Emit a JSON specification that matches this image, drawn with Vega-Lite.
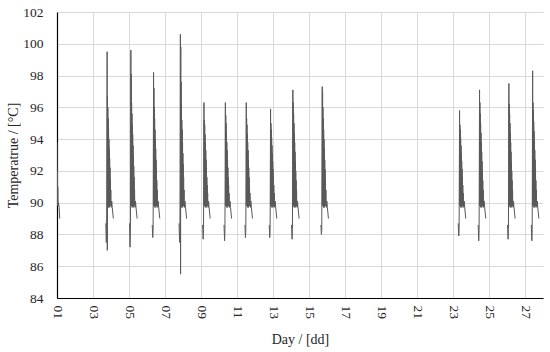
{
  "$schema": "https://vega.github.io/schema/vega-lite/v6.json",
  "autosize": {"type": "none"},
  "width": 486,
  "height": 286,
  "padding": {"left": 57, "top": 12, "right": 7, "bottom": 54},
  "background": "white",
  "config": {
    "view": {"stroke": null},
    "font": "Liberation Serif",
    "axis": {
      "labelFont": "Liberation Serif",
      "titleFont": "Liberation Serif",
      "labelFontSize": 13.5,
      "titleFontSize": 14,
      "titleFontWeight": "normal",
      "labelColor": "#262626",
      "titleColor": "#262626",
      "gridColor": "#d9d9d9",
      "gridWidth": 1,
      "domainColor": "#000000",
      "domainWidth": 1.2,
      "ticks": false
    }
  },
  "data": {"values": [
    {"c":1,"d":1.000,"t":93.8},{"c":1,"d":1.010,"t":89.8},{"c":1,"d":1.020,"t":92.0},{"c":1,"d":1.030,"t":89.8},{"c":1,"d":1.045,"t":91.0},{"c":1,"d":1.060,"t":89.8},{"c":1,"d":1.080,"t":90.0},{"c":1,"d":1.120,"t":89.7},{"c":1,"d":1.150,"t":89.0},

    {"c":2,"d":3.710,"t":88.7},{"c":2,"d":3.740,"t":87.5},{"c":2,"d":3.760,"t":88.3},{"c":2,"d":3.785,"t":99.5},{"c":2,"d":3.795,"t":87.0},{"c":2,"d":3.805,"t":96.7},{"c":2,"d":3.815,"t":89.8},{"c":2,"d":3.825,"t":96.0},{"c":2,"d":3.835,"t":89.8},{"c":2,"d":3.845,"t":95.3},{"c":2,"d":3.855,"t":89.7},{"c":2,"d":3.865,"t":94.6},{"c":2,"d":3.875,"t":89.8},{"c":2,"d":3.885,"t":94.0},{"c":2,"d":3.895,"t":89.8},{"c":2,"d":3.905,"t":93.4},{"c":2,"d":3.915,"t":89.7},{"c":2,"d":3.925,"t":92.8},{"c":2,"d":3.935,"t":89.8},{"c":2,"d":3.945,"t":92.2},{"c":2,"d":3.955,"t":89.8},{"c":2,"d":3.965,"t":91.5},{"c":2,"d":3.975,"t":89.8},{"c":2,"d":3.990,"t":90.8},{"c":2,"d":4.000,"t":89.9},{"c":2,"d":4.020,"t":89.7},{"c":2,"d":4.040,"t":90.1},{"c":2,"d":4.070,"t":89.7},{"c":2,"d":4.130,"t":89.0},

    {"c":3,"d":5.030,"t":88.7},{"c":3,"d":5.060,"t":87.2},{"c":3,"d":5.080,"t":88.3},{"c":3,"d":5.105,"t":99.6},{"c":3,"d":5.115,"t":89.8},{"c":3,"d":5.125,"t":98.1},{"c":3,"d":5.135,"t":89.8},{"c":3,"d":5.145,"t":96.3},{"c":3,"d":5.155,"t":89.8},{"c":3,"d":5.165,"t":95.6},{"c":3,"d":5.175,"t":89.7},{"c":3,"d":5.185,"t":94.9},{"c":3,"d":5.195,"t":89.8},{"c":3,"d":5.205,"t":94.3},{"c":3,"d":5.215,"t":89.8},{"c":3,"d":5.225,"t":93.6},{"c":3,"d":5.235,"t":89.7},{"c":3,"d":5.245,"t":93.0},{"c":3,"d":5.255,"t":89.8},{"c":3,"d":5.265,"t":92.3},{"c":3,"d":5.275,"t":89.8},{"c":3,"d":5.285,"t":91.6},{"c":3,"d":5.295,"t":89.8},{"c":3,"d":5.310,"t":90.8},{"c":3,"d":5.320,"t":89.9},{"c":3,"d":5.340,"t":89.7},{"c":3,"d":5.360,"t":90.1},{"c":3,"d":5.390,"t":89.7},{"c":3,"d":5.450,"t":89.0},

    {"c":4,"d":6.290,"t":88.6},{"c":4,"d":6.320,"t":87.8},{"c":4,"d":6.340,"t":88.3},{"c":4,"d":6.365,"t":98.2},{"c":4,"d":6.375,"t":89.8},{"c":4,"d":6.385,"t":97.2},{"c":4,"d":6.395,"t":89.8},{"c":4,"d":6.405,"t":96.0},{"c":4,"d":6.415,"t":89.8},{"c":4,"d":6.425,"t":95.3},{"c":4,"d":6.435,"t":89.7},{"c":4,"d":6.445,"t":94.6},{"c":4,"d":6.455,"t":89.8},{"c":4,"d":6.465,"t":94.0},{"c":4,"d":6.475,"t":89.8},{"c":4,"d":6.485,"t":93.4},{"c":4,"d":6.495,"t":89.7},{"c":4,"d":6.505,"t":92.7},{"c":4,"d":6.515,"t":89.8},{"c":4,"d":6.525,"t":92.1},{"c":4,"d":6.535,"t":89.8},{"c":4,"d":6.545,"t":91.4},{"c":4,"d":6.555,"t":89.8},{"c":4,"d":6.570,"t":90.8},{"c":4,"d":6.580,"t":89.9},{"c":4,"d":6.600,"t":89.7},{"c":4,"d":6.620,"t":90.1},{"c":4,"d":6.650,"t":89.7},{"c":4,"d":6.710,"t":89.0},

    {"c":5,"d":7.780,"t":88.7},{"c":5,"d":7.810,"t":87.5},{"c":5,"d":7.830,"t":88.3},{"c":5,"d":7.855,"t":100.6},{"c":5,"d":7.865,"t":85.5},{"c":5,"d":7.875,"t":99.8},{"c":5,"d":7.885,"t":89.8},{"c":5,"d":7.895,"t":97.6},{"c":5,"d":7.905,"t":89.8},{"c":5,"d":7.915,"t":96.2},{"c":5,"d":7.925,"t":89.7},{"c":5,"d":7.935,"t":95.2},{"c":5,"d":7.945,"t":89.8},{"c":5,"d":7.955,"t":94.6},{"c":5,"d":7.965,"t":89.8},{"c":5,"d":7.975,"t":93.8},{"c":5,"d":7.985,"t":89.7},{"c":5,"d":7.995,"t":93.1},{"c":5,"d":8.005,"t":89.8},{"c":5,"d":8.015,"t":92.4},{"c":5,"d":8.025,"t":89.8},{"c":5,"d":8.035,"t":91.6},{"c":5,"d":8.045,"t":89.8},{"c":5,"d":8.060,"t":90.8},{"c":5,"d":8.070,"t":89.9},{"c":5,"d":8.090,"t":89.7},{"c":5,"d":8.110,"t":90.1},{"c":5,"d":8.140,"t":89.7},{"c":5,"d":8.200,"t":89.0},

    {"c":6,"d":9.090,"t":88.6},{"c":6,"d":9.120,"t":87.7},{"c":6,"d":9.140,"t":88.3},{"c":6,"d":9.165,"t":96.3},{"c":6,"d":9.175,"t":89.8},{"c":6,"d":9.185,"t":95.2},{"c":6,"d":9.195,"t":89.8},{"c":6,"d":9.205,"t":94.9},{"c":6,"d":9.215,"t":89.8},{"c":6,"d":9.225,"t":94.3},{"c":6,"d":9.235,"t":89.7},{"c":6,"d":9.245,"t":93.8},{"c":6,"d":9.255,"t":89.8},{"c":6,"d":9.265,"t":93.3},{"c":6,"d":9.275,"t":89.8},{"c":6,"d":9.285,"t":92.7},{"c":6,"d":9.295,"t":89.7},{"c":6,"d":9.305,"t":92.2},{"c":6,"d":9.315,"t":89.8},{"c":6,"d":9.325,"t":91.6},{"c":6,"d":9.335,"t":89.8},{"c":6,"d":9.345,"t":91.1},{"c":6,"d":9.355,"t":89.8},{"c":6,"d":9.370,"t":90.6},{"c":6,"d":9.380,"t":89.9},{"c":6,"d":9.400,"t":89.7},{"c":6,"d":9.420,"t":90.1},{"c":6,"d":9.450,"t":89.7},{"c":6,"d":9.510,"t":89.0},

    {"c":7,"d":10.280,"t":88.6},{"c":7,"d":10.310,"t":87.6},{"c":7,"d":10.330,"t":88.3},{"c":7,"d":10.355,"t":96.3},{"c":7,"d":10.365,"t":89.8},{"c":7,"d":10.375,"t":95.5},{"c":7,"d":10.385,"t":89.8},{"c":7,"d":10.395,"t":95.0},{"c":7,"d":10.405,"t":89.8},{"c":7,"d":10.415,"t":94.4},{"c":7,"d":10.425,"t":89.7},{"c":7,"d":10.435,"t":93.8},{"c":7,"d":10.445,"t":89.8},{"c":7,"d":10.455,"t":93.3},{"c":7,"d":10.465,"t":89.8},{"c":7,"d":10.475,"t":92.7},{"c":7,"d":10.485,"t":89.7},{"c":7,"d":10.495,"t":92.2},{"c":7,"d":10.505,"t":89.8},{"c":7,"d":10.515,"t":91.6},{"c":7,"d":10.525,"t":89.8},{"c":7,"d":10.535,"t":91.1},{"c":7,"d":10.545,"t":89.8},{"c":7,"d":10.560,"t":90.6},{"c":7,"d":10.570,"t":89.9},{"c":7,"d":10.590,"t":89.7},{"c":7,"d":10.610,"t":90.1},{"c":7,"d":10.640,"t":89.7},{"c":7,"d":10.700,"t":89.0},

    {"c":8,"d":11.440,"t":88.6},{"c":8,"d":11.470,"t":87.8},{"c":8,"d":11.490,"t":88.3},{"c":8,"d":11.515,"t":96.3},{"c":8,"d":11.525,"t":89.8},{"c":8,"d":11.535,"t":95.3},{"c":8,"d":11.545,"t":89.8},{"c":8,"d":11.555,"t":94.9},{"c":8,"d":11.565,"t":89.8},{"c":8,"d":11.575,"t":94.3},{"c":8,"d":11.585,"t":89.7},{"c":8,"d":11.595,"t":93.8},{"c":8,"d":11.605,"t":89.8},{"c":8,"d":11.615,"t":93.3},{"c":8,"d":11.625,"t":89.8},{"c":8,"d":11.635,"t":92.7},{"c":8,"d":11.645,"t":89.7},{"c":8,"d":11.655,"t":92.2},{"c":8,"d":11.665,"t":89.8},{"c":8,"d":11.675,"t":91.6},{"c":8,"d":11.685,"t":89.8},{"c":8,"d":11.695,"t":91.1},{"c":8,"d":11.705,"t":89.8},{"c":8,"d":11.720,"t":90.6},{"c":8,"d":11.730,"t":89.9},{"c":8,"d":11.750,"t":89.7},{"c":8,"d":11.770,"t":90.1},{"c":8,"d":11.800,"t":89.7},{"c":8,"d":11.860,"t":89.0},

    {"c":9,"d":12.790,"t":88.6},{"c":9,"d":12.820,"t":87.8},{"c":9,"d":12.840,"t":88.3},{"c":9,"d":12.865,"t":95.9},{"c":9,"d":12.875,"t":89.8},{"c":9,"d":12.885,"t":95.0},{"c":9,"d":12.895,"t":89.8},{"c":9,"d":12.905,"t":94.6},{"c":9,"d":12.915,"t":89.8},{"c":9,"d":12.925,"t":94.1},{"c":9,"d":12.935,"t":89.7},{"c":9,"d":12.945,"t":93.6},{"c":9,"d":12.955,"t":89.8},{"c":9,"d":12.965,"t":93.1},{"c":9,"d":12.975,"t":89.8},{"c":9,"d":12.985,"t":92.6},{"c":9,"d":12.995,"t":89.7},{"c":9,"d":13.005,"t":92.1},{"c":9,"d":13.015,"t":89.8},{"c":9,"d":13.025,"t":91.6},{"c":9,"d":13.035,"t":89.8},{"c":9,"d":13.045,"t":91.1},{"c":9,"d":13.055,"t":89.8},{"c":9,"d":13.070,"t":90.6},{"c":9,"d":13.080,"t":89.9},{"c":9,"d":13.100,"t":89.7},{"c":9,"d":13.120,"t":90.1},{"c":9,"d":13.150,"t":89.7},{"c":9,"d":13.210,"t":89.0},

    {"c":10,"d":14.030,"t":88.6},{"c":10,"d":14.060,"t":87.7},{"c":10,"d":14.080,"t":88.3},{"c":10,"d":14.105,"t":97.1},{"c":10,"d":14.115,"t":89.8},{"c":10,"d":14.125,"t":96.3},{"c":10,"d":14.135,"t":89.8},{"c":10,"d":14.145,"t":95.6},{"c":10,"d":14.155,"t":89.8},{"c":10,"d":14.165,"t":95.0},{"c":10,"d":14.175,"t":89.7},{"c":10,"d":14.185,"t":94.4},{"c":10,"d":14.195,"t":89.8},{"c":10,"d":14.205,"t":93.8},{"c":10,"d":14.215,"t":89.8},{"c":10,"d":14.225,"t":93.2},{"c":10,"d":14.235,"t":89.7},{"c":10,"d":14.245,"t":92.6},{"c":10,"d":14.255,"t":89.8},{"c":10,"d":14.265,"t":92.0},{"c":10,"d":14.275,"t":89.8},{"c":10,"d":14.285,"t":91.4},{"c":10,"d":14.295,"t":89.8},{"c":10,"d":14.310,"t":90.8},{"c":10,"d":14.320,"t":89.9},{"c":10,"d":14.340,"t":89.7},{"c":10,"d":14.360,"t":90.1},{"c":10,"d":14.390,"t":89.7},{"c":10,"d":14.450,"t":89.0},

    {"c":11,"d":15.660,"t":88.6},{"c":11,"d":15.690,"t":88.0},{"c":11,"d":15.710,"t":88.3},{"c":11,"d":15.735,"t":97.3},{"c":11,"d":15.745,"t":89.8},{"c":11,"d":15.755,"t":97.0},{"c":11,"d":15.765,"t":89.8},{"c":11,"d":15.775,"t":96.0},{"c":11,"d":15.785,"t":89.8},{"c":11,"d":15.795,"t":95.3},{"c":11,"d":15.805,"t":89.7},{"c":11,"d":15.815,"t":94.6},{"c":11,"d":15.825,"t":89.8},{"c":11,"d":15.835,"t":94.0},{"c":11,"d":15.845,"t":89.8},{"c":11,"d":15.855,"t":93.4},{"c":11,"d":15.865,"t":89.7},{"c":11,"d":15.875,"t":92.7},{"c":11,"d":15.885,"t":89.8},{"c":11,"d":15.895,"t":92.1},{"c":11,"d":15.905,"t":89.8},{"c":11,"d":15.915,"t":91.4},{"c":11,"d":15.925,"t":89.8},{"c":11,"d":15.940,"t":90.8},{"c":11,"d":15.950,"t":89.9},{"c":11,"d":15.970,"t":89.7},{"c":11,"d":15.990,"t":90.1},{"c":11,"d":16.020,"t":89.7},{"c":11,"d":16.080,"t":89.0},

    {"c":12,"d":23.290,"t":88.7},{"c":12,"d":23.320,"t":87.9},{"c":12,"d":23.340,"t":88.3},{"c":12,"d":23.365,"t":95.8},{"c":12,"d":23.375,"t":89.8},{"c":12,"d":23.385,"t":94.9},{"c":12,"d":23.395,"t":89.8},{"c":12,"d":23.405,"t":94.6},{"c":12,"d":23.415,"t":89.8},{"c":12,"d":23.425,"t":94.1},{"c":12,"d":23.435,"t":89.7},{"c":12,"d":23.445,"t":93.6},{"c":12,"d":23.455,"t":89.8},{"c":12,"d":23.465,"t":93.1},{"c":12,"d":23.475,"t":89.8},{"c":12,"d":23.485,"t":92.6},{"c":12,"d":23.495,"t":89.7},{"c":12,"d":23.505,"t":92.1},{"c":12,"d":23.515,"t":89.8},{"c":12,"d":23.525,"t":91.6},{"c":12,"d":23.535,"t":89.8},{"c":12,"d":23.545,"t":91.1},{"c":12,"d":23.555,"t":89.8},{"c":12,"d":23.570,"t":90.6},{"c":12,"d":23.580,"t":89.9},{"c":12,"d":23.600,"t":89.7},{"c":12,"d":23.620,"t":90.1},{"c":12,"d":23.650,"t":89.7},{"c":12,"d":23.710,"t":89.0},

    {"c":13,"d":24.400,"t":88.6},{"c":13,"d":24.430,"t":87.6},{"c":13,"d":24.450,"t":88.3},{"c":13,"d":24.475,"t":97.1},{"c":13,"d":24.485,"t":89.8},{"c":13,"d":24.495,"t":96.3},{"c":13,"d":24.505,"t":89.8},{"c":13,"d":24.515,"t":95.6},{"c":13,"d":24.525,"t":89.8},{"c":13,"d":24.535,"t":95.0},{"c":13,"d":24.545,"t":89.7},{"c":13,"d":24.555,"t":94.4},{"c":13,"d":24.565,"t":89.8},{"c":13,"d":24.575,"t":93.8},{"c":13,"d":24.585,"t":89.8},{"c":13,"d":24.595,"t":93.2},{"c":13,"d":24.605,"t":89.7},{"c":13,"d":24.615,"t":92.6},{"c":13,"d":24.625,"t":89.8},{"c":13,"d":24.635,"t":92.0},{"c":13,"d":24.645,"t":89.8},{"c":13,"d":24.655,"t":91.4},{"c":13,"d":24.665,"t":89.8},{"c":13,"d":24.680,"t":90.8},{"c":13,"d":24.690,"t":89.9},{"c":13,"d":24.710,"t":89.7},{"c":13,"d":24.730,"t":90.1},{"c":13,"d":24.760,"t":89.7},{"c":13,"d":24.820,"t":89.0},

    {"c":14,"d":26.030,"t":88.6},{"c":14,"d":26.060,"t":87.7},{"c":14,"d":26.080,"t":88.3},{"c":14,"d":26.105,"t":97.5},{"c":14,"d":26.115,"t":89.8},{"c":14,"d":26.125,"t":96.2},{"c":14,"d":26.135,"t":89.8},{"c":14,"d":26.145,"t":95.6},{"c":14,"d":26.155,"t":89.8},{"c":14,"d":26.165,"t":95.0},{"c":14,"d":26.175,"t":89.7},{"c":14,"d":26.185,"t":94.4},{"c":14,"d":26.195,"t":89.8},{"c":14,"d":26.205,"t":93.8},{"c":14,"d":26.215,"t":89.8},{"c":14,"d":26.225,"t":93.2},{"c":14,"d":26.235,"t":89.7},{"c":14,"d":26.245,"t":92.6},{"c":14,"d":26.255,"t":89.8},{"c":14,"d":26.265,"t":92.0},{"c":14,"d":26.275,"t":89.8},{"c":14,"d":26.285,"t":91.4},{"c":14,"d":26.295,"t":89.8},{"c":14,"d":26.310,"t":90.8},{"c":14,"d":26.320,"t":89.9},{"c":14,"d":26.340,"t":89.7},{"c":14,"d":26.360,"t":90.1},{"c":14,"d":26.390,"t":89.7},{"c":14,"d":26.450,"t":89.0},

    {"c":15,"d":27.350,"t":88.6},{"c":15,"d":27.380,"t":87.6},{"c":15,"d":27.400,"t":88.3},{"c":15,"d":27.425,"t":98.3},{"c":15,"d":27.435,"t":89.8},{"c":15,"d":27.445,"t":96.3},{"c":15,"d":27.455,"t":89.8},{"c":15,"d":27.465,"t":95.8},{"c":15,"d":27.475,"t":89.8},{"c":15,"d":27.485,"t":95.1},{"c":15,"d":27.495,"t":89.7},{"c":15,"d":27.505,"t":94.5},{"c":15,"d":27.515,"t":89.8},{"c":15,"d":27.525,"t":93.9},{"c":15,"d":27.535,"t":89.8},{"c":15,"d":27.545,"t":93.3},{"c":15,"d":27.555,"t":89.7},{"c":15,"d":27.565,"t":92.7},{"c":15,"d":27.575,"t":89.8},{"c":15,"d":27.585,"t":92.1},{"c":15,"d":27.595,"t":89.8},{"c":15,"d":27.605,"t":91.4},{"c":15,"d":27.615,"t":89.8},{"c":15,"d":27.630,"t":90.8},{"c":15,"d":27.640,"t":89.9},{"c":15,"d":27.660,"t":89.7},{"c":15,"d":27.680,"t":90.1},{"c":15,"d":27.710,"t":89.7},{"c":15,"d":27.770,"t":89.0}
  ]},
  "mark": {"type": "line", "color": "#595959", "strokeWidth": 1, "clip": true},
  "encoding": {
    "x": {
      "field": "d", "type": "quantitative",
      "scale": {"domain": [1, 28], "nice": false, "zero": false},
      "axis": {
        "title": "Day / [dd]",
        "values": [1,3,5,7,9,11,13,15,17,19,21,23,25,27],
        "labelExpr": "datum.value < 10 ? '0' + datum.value : '' + datum.value",
        "labelAngle": 90,
        "labelAlign": "left",
        "labelBaseline": "middle",
        "labelPadding": 7,
        "titlePadding": 14,
        "grid": true
      }
    },
    "y": {
      "field": "t", "type": "quantitative",
      "scale": {"domain": [84, 102], "nice": false, "zero": false},
      "axis": {
        "title": "Temperatrue / [°C]",
        "values": [84,86,88,90,92,94,96,98,100,102],
        "labelPadding": 14,
        "titlePadding": 2,
        "grid": true
      }
    },
    "detail": {"field": "c", "type": "nominal"}
  }
}
